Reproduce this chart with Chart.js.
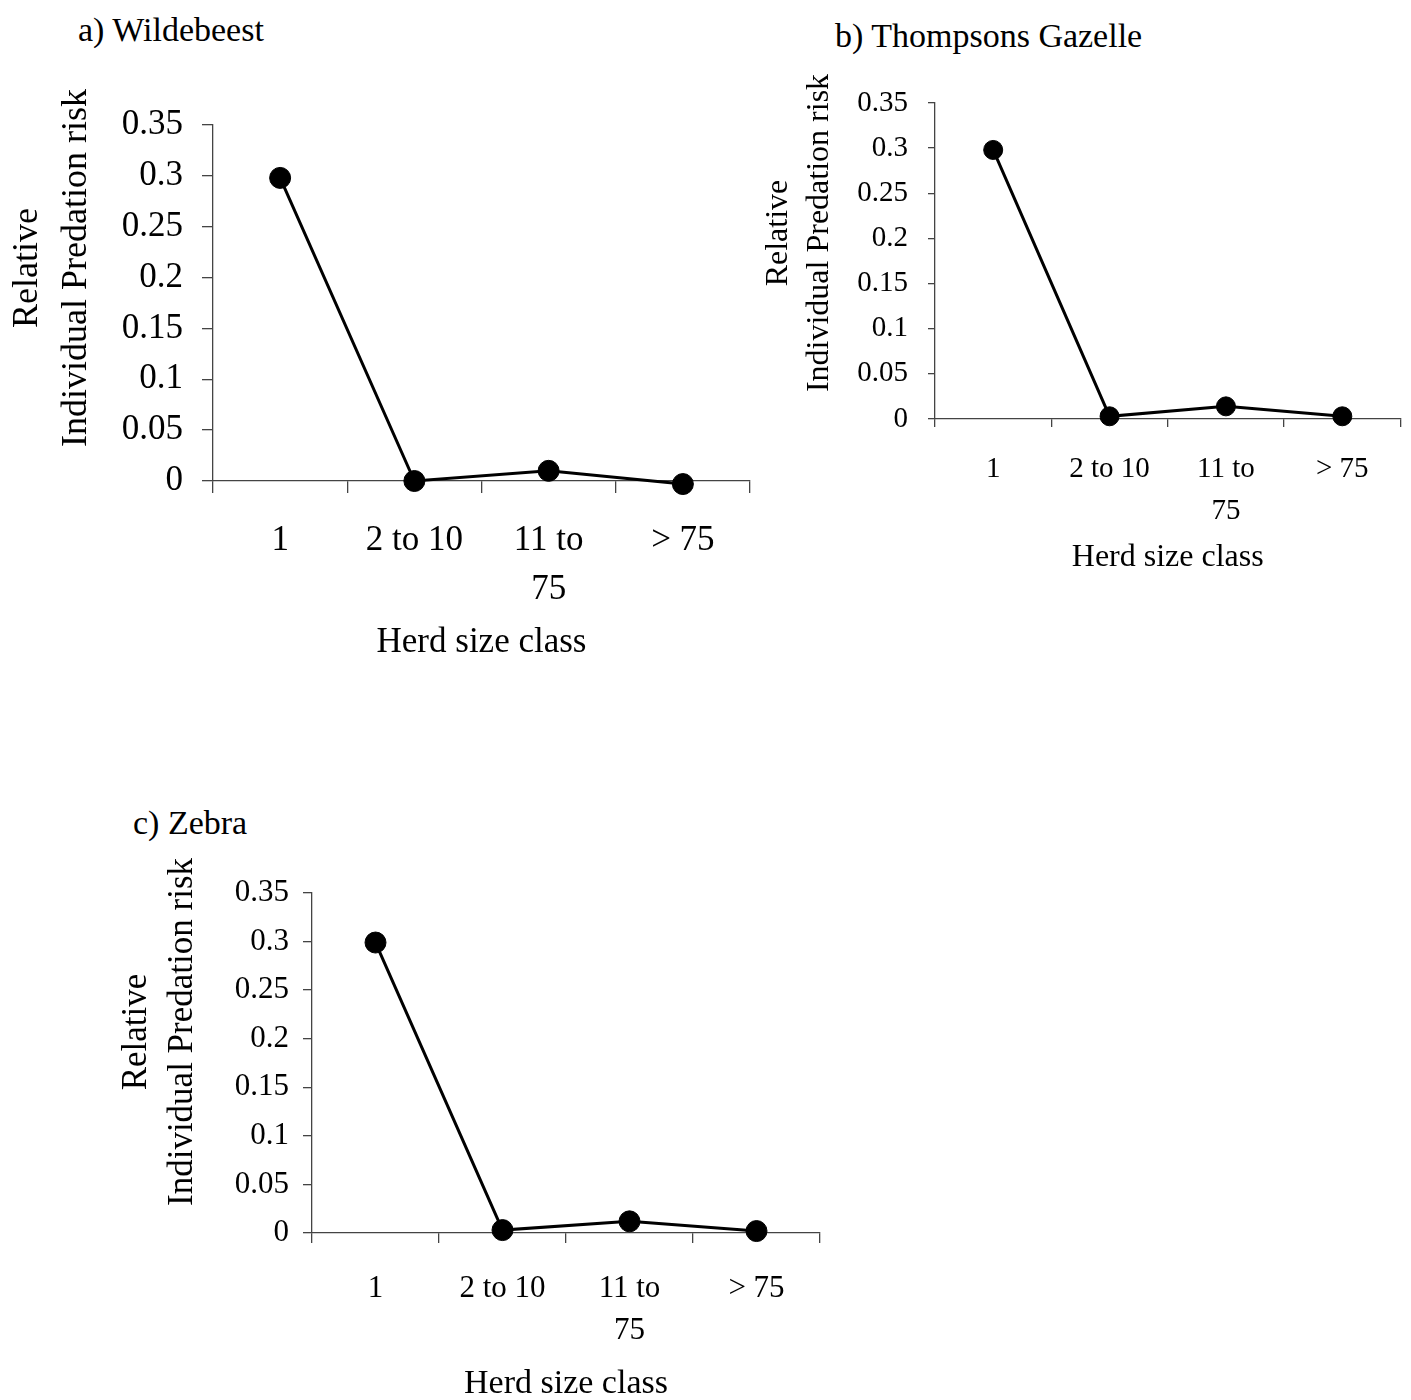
<!DOCTYPE html>
<html>
<head>
<meta charset="utf-8">
<script src="https://cdn.jsdelivr.net/npm/chart.js@4.4.1/dist/chart.umd.min.js"></script>
<style>
  html, body { margin: 0; padding: 0; background: #fff; overflow: hidden; }
  body { width: 1411px; height: 1400px; position: relative; }
  canvas { position: absolute; }
  .ptitle { position: absolute; font-family: 'Liberation Serif', 'Times New Roman', serif; font-size: 34px; line-height: 1; white-space: nowrap; color: #000; }
</style>
</head>
<body>
<div class="ptitle" id="ta" style="left:78px; top:13px;"></div>
<div class="ptitle" id="tb" style="left:835px; top:19px;"></div>
<div class="ptitle" id="tc" style="left:133px; top:806px;"></div>
<canvas id="ca" width="780" height="664" style="left:0px; top:0px;"></canvas>
<canvas id="cb" width="651" height="577" style="left:760px; top:0px;"></canvas>
<canvas id="cc" width="860" height="704" style="left:0px; top:700px;"></canvas>
<script>
// ---- data ----
const herdClasses = ['1', '2 to 10', '11 to 75', '> 75'];
const herdTickLabels = [['1'], ['2 to 10'], ['11 to', '75'], ['> 75']];
const yTickLabels = ['0', '0.05', '0.1', '0.15', '0.2', '0.25', '0.3', '0.35'];
const wildebeestRisk = [0.298, 0.0, 0.010, -0.003];
const gazelleRisk = [0.298, 0.003, 0.014, 0.003];
const zebraRisk = [0.299, 0.003, 0.012, 0.002];
const panelTitles = ['a) Wildebeest', 'b) Thompsons Gazelle', 'c) Zebra'];
const yTitleLines = ['Relative', 'Individual Predation risk'];
const xTitle = 'Herd size class';

document.getElementById('ta').textContent = panelTitles[0];
document.getElementById('tb').textContent = panelTitles[1];
document.getElementById('tc').textContent = panelTitles[2];

const FAMILY = "'Liberation Serif', 'Times New Roman', serif";
Chart.defaults.font.family = FAMILY;
Chart.defaults.color = '#000';

const yTitlePlugin = {
  id: 'ytitle',
  afterDraw(chart, args, o) {
    const ctx = chart.ctx;
    ctx.save();
    ctx.font = o.size + 'px ' + FAMILY;
    ctx.fillStyle = '#000';
    ctx.textAlign = 'center';
    ctx.textBaseline = 'middle';
    o.lines.forEach((line, i) => {
      ctx.save();
      ctx.translate(o.xs[i], o.y);
      ctx.rotate(-Math.PI / 2);
      ctx.fillText(line, 0, 0);
      ctx.restore();
    });
    ctx.restore();
  }
};

function makeChart(id, values, g) {
  const axisColor = '#444';
  return new Chart(document.getElementById(id), {
    type: 'line',
    data: {
      labels: herdTickLabels,
      datasets: [{
        data: values,
        borderColor: '#000',
        borderWidth: 3,
        tension: 0,
        fill: false,
        pointRadius: g.pr,
        pointHoverRadius: g.pr,
        pointBackgroundColor: '#000',
        pointBorderColor: '#000',
        pointBorderWidth: 1,
        clip: false
      }]
    },
    plugins: [yTitlePlugin],
    options: {
      responsive: false,
      animation: false,
      devicePixelRatio: 1,
      events: [],
      layout: { padding: { top: g.top, right: g.right, left: 0, bottom: 0 } },
      plugins: {
        legend: { display: false },
        tooltip: { enabled: false },
        title: { display: false },
        ytitle: { lines: yTitleLines, size: g.ytSize, xs: g.ytXs, y: g.ytY }
      },
      scales: {
        x: {
          type: 'category',
          offset: true,
          afterFit: s => { s.height = g.xh; },
          grid: { display: true, drawOnChartArea: false, drawTicks: true, tickLength: g.xtl, color: axisColor, lineWidth: 1.3, offset: true },
          border: { display: true, color: axisColor, width: 1.3 },
          ticks: { autoSkip: false, maxRotation: 0, minRotation: 0, padding: g.xpad, color: '#000',
                   font: { size: g.tickSize, lineHeight: g.xlh } },
          title: { display: true, text: xTitle, color: '#000', padding: { top: 0, bottom: 0 },
                   font: { size: g.xtSize, lineHeight: 1.2 } }
        },
        y: {
          min: 0, max: 0.35,
          afterFit: s => { s.width = g.yw; },
          grid: { display: true, drawOnChartArea: false, drawTicks: true, tickLength: g.ytl, color: axisColor, lineWidth: 1.3 },
          border: { display: true, color: axisColor, width: 1.3 },
          ticks: {
            stepSize: 0.05, padding: g.ypad, color: '#000',
            font: { size: g.tickSize },
            callback: (v) => { const l = yTickLabels.find(t => Math.abs(parseFloat(t) - v) < 1e-9); return l === undefined ? '' : l; }
          },
          title: { display: false }
        }
      }
    }
  });
}

makeChart('ca', wildebeestRisk, {
  top: 125, right: 30, yw: 213, xh: 183, pr: 10.5,
  tickSize: 35, xtSize: 35, ytSize: 36, xtl: 12, xpad: 24, xlh: 1.38, ytl: 11, ypad: 19,
  ytXs: [28, 77], ytY: 268
});
makeChart('cb', gazelleRisk, {
  top: 103, right: 1, yw: 175, xh: 158, pr: 9.5,
  tickSize: 29, xtSize: 32, ytSize: 32, xtl: 8, xpad: 21, xlh: 1.45, ytl: 7, ypad: 20,
  ytXs: [19, 60], ytY: 233
});
makeChart('cc', zebraRisk, {
  top: 193, right: 40, yw: 312, xh: 171, pr: 10.5,
  tickSize: 31, xtSize: 34, ytSize: 35, xtl: 10, xpad: 24, xlh: 1.38, ytl: 9, ypad: 14,
  ytXs: [137, 183], ytY: 332
});
</script>
</body>
</html>
